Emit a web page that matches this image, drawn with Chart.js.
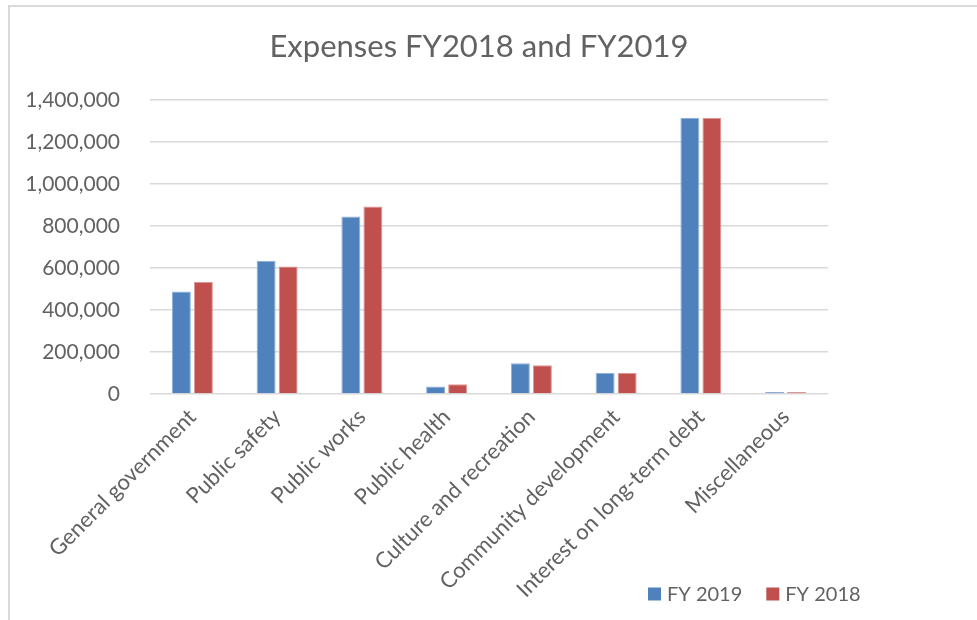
<!DOCTYPE html>
<html>
<head>
<meta charset="utf-8">
<script src="https://cdn.jsdelivr.net/npm/chart.js@4"></script>
<style>
  html, body { margin: 0; padding: 0; background: #fff; }
  #wrap { position: relative; width: 977px; height: 620px; overflow: hidden; }
  #frame { position: absolute; left: 8px; top: 5px; width: 1000px; height: 700px; border-left: 2px solid #d9d9d9; border-top: 2px solid #d9d9d9; }
  #chart { position: absolute; left: 0; top: 0; }
</style>
</head>
<body>
<div id="wrap">
  <div id="frame"></div>
  <canvas id="chart" width="977" height="620"></canvas>
</div>
<script>
const categories = ['General government', 'Public safety', 'Public works', 'Public health',
    'Culture and recreation', 'Community development', 'Interest on long-term debt', 'Miscellaneous'];
const fy2019 = [488000, 635000, 846000, 36000, 147000, 100000, 1316000, 10000];
const fy2018 = [534000, 607000, 893000, 47000, 137000, 100000, 1316000, 9000];
const yTicks = [0, 200000, 400000, 600000, 800000, 1000000, 1200000, 1400000];

const textColor = '#626262';
const fontFamily = 'Lato, "Open Sans", sans-serif';

// legend drawn under the plot, right side, like the Excel one
const bottomLegend = {
    id: 'bottomLegend',
    afterDraw(chart) {
        const ctx = chart.ctx;
        const area = chart.chartArea;
        const box = 13;
        let x = area.right - 180;
        const y = chart.height - 26;
        ctx.save();
        ctx.font = '20px ' + fontFamily;
        ctx.textBaseline = 'middle';
        chart.data.datasets.forEach(ds => {
            ctx.fillStyle = ds.backgroundColor;
            ctx.fillRect(x, y - box / 2, box, box);
            ctx.fillStyle = textColor;
            ctx.fillText(ds.label, x + box + 6, y + 1);
            x += box + 6 + ctx.measureText(ds.label).width + 24;
        });
        ctx.restore();
    }
};

const ctx = document.getElementById('chart').getContext('2d');
const chart = new Chart(ctx, {
    type: 'bar',
    data: {
        labels: categories,
        datasets: [
            {
                label: 'FY 2019',
                data: fy2019,
                backgroundColor: '#4f81bd',
                borderColor: '#8fb0d9',
                borderWidth: 1,
                categoryPercentage: 0.52,
                barPercentage: 0.86
            },
            {
                label: 'FY 2018',
                data: fy2018,
                backgroundColor: '#c0504d',
                borderColor: '#dc9795',
                borderWidth: 1,
                categoryPercentage: 0.52,
                barPercentage: 0.86
            }
        ]
    },
    options: {
        responsive: false,
        animation: false,
        layout: { padding: { left: 0, right: 19, top: 0, bottom: 0 } },
        plugins: {
            legend: { display: false },
            tooltip: { enabled: false },
            title: {
                display: true,
                text: 'Expenses FY2018 and FY2019',
                color: textColor,
                font: { family: fontFamily, size: 31, weight: 'normal', lineHeight: 1.2 },
                padding: { top: 28, bottom: 35 }
            }
        },
        scales: {
            x: {
                grid: { display: false },
                border: { display: false },
                ticks: {
                    color: textColor,
                    font: { family: fontFamily, size: 22 },
                    minRotation: 45,
                    maxRotation: 45,
                    padding: 2
                },
                afterFit: scale => { scale.height = 226; }
            },
            y: {
                min: 0,
                max: 1400000,
                afterBuildTicks: scale => { scale.ticks = yTicks.map(v => ({ value: v })); },
                grid: { color: '#d9d9d9', lineWidth: 1.5, drawTicks: false },
                border: { display: false },
                ticks: {
                    color: textColor,
                    font: { family: fontFamily, size: 21 },
                    padding: 30,
                    callback: value => value.toLocaleString('en-US')
                },
                afterFit: scale => { scale.width = 150; }
            },
            spacer: {
                position: 'right',
                display: true,
                grid: { display: false },
                border: { display: false },
                ticks: { display: false },
                afterFit: scale => { scale.width = 130; }
            }
        }
    },
    plugins: [bottomLegend]
});
</script>
</body>
</html>
